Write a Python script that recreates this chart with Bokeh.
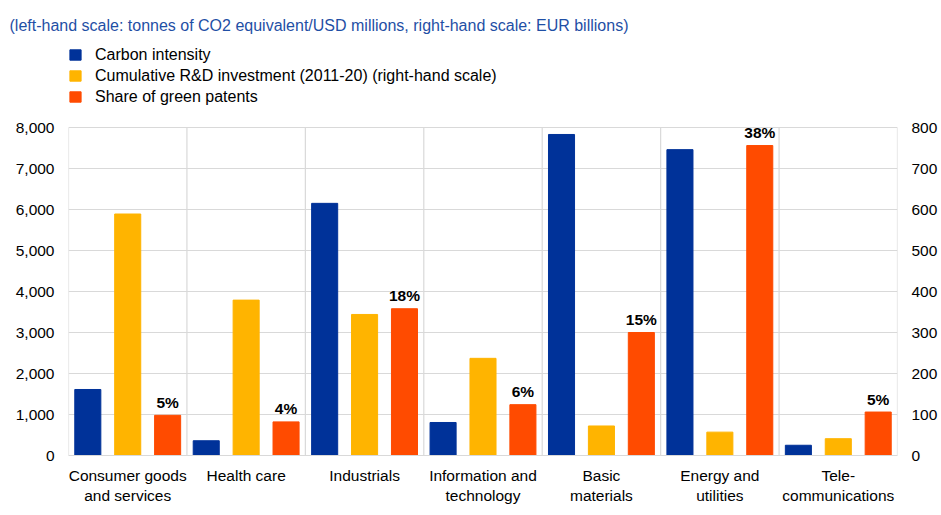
from bokeh.plotting import figure
from bokeh.models import (FactorRange, Range1d, LinearAxis, NumeralTickFormatter,
                          FixedTicker, ColumnDataSource)
from bokeh.transform import dodge
from bokeh.core.properties import value
from bokeh.embed import file_html
from bokeh.resources import INLINE

# ---- data -------------------------------------------------------------
sectors = ["Consumer goods\nand services", "Health care", "Industrials",
           "Information and\ntechnology", "Basic\nmaterials",
           "Energy and\nutilities", "Tele-\ncommunications"]
carbon_intensity = [1610, 360, 6150, 805, 7830, 7460, 250]      # left scale
rd_investment = [589, 379, 344, 237, 72, 57, 41]                # right scale, EUR bn
green_patent_share = [4.9, 4.1, 17.9, 6.2, 15.0, 37.8, 5.3]     # percent
share_labels = [f"{round(v)}%" for v in green_patent_share]
left_ticks = [0, 1000, 2000, 3000, 4000, 5000, 6000, 7000, 8000]
right_ticks = [0, 100, 200, 300, 400, 500, 600, 700, 800]

# ---- styling ------------------------------------------------------------
FONT = "Liberation Sans"
BLUE, YELLOW, ORANGE = "#003299", "#ffb400", "#ff4b00"
GRID = "#d9d9d9"
TITLE_COLOR = "#1f4fa5"

W, H = 941, 510
BOTTOM, LEFT, RIGHT = 55, 68, 44
TOP = 40                          # border above the plot area (holds the title)
TITLE_STANDOFF = 13
FRAME_H = H - TOP - BOTTOM
AXIS_PX = 328                     # pixel height of the 0..8000 scale
scale_top = left_ticks[-1] * FRAME_H / AXIS_PX

src = ColumnDataSource(dict(sector=sectors, carbon=carbon_intensity,
                            rd=rd_investment, share=green_patent_share,
                            label=share_labels))

p = figure(width=W, height=H, output_backend="svg", toolbar_location=None,
           x_range=FactorRange(*sectors, range_padding=0),
           y_range=Range1d(0, scale_top),
           min_border_left=LEFT, min_border_right=RIGHT,
           min_border_top=TOP, min_border_bottom=BOTTOM,
           title="(left-hand scale: tonnes of CO2 equivalent/USD millions, "
                 "right-hand scale: EUR billions)")
p.extra_y_ranges = {
    "rd": Range1d(0, right_ticks[-1] * scale_top / left_ticks[-1]),
    "share": Range1d(0, scale_top / 200)}

p.title.text_font = FONT
p.title.text_font_size = "16px"
p.title.text_font_style = "normal"
p.title.text_color = TITLE_COLOR
p.title.align = "left"
p.title.offset = -59
p.title.standoff = TITLE_STANDOFF

OFF = 0.337
BW = 0.22
p.vbar(x=dodge("sector", -OFF, range=p.x_range), top="carbon", width=BW,
       source=src, color=BLUE, legend_label="Carbon intensity")
p.vbar(x=dodge("sector", 0, range=p.x_range), top="rd", width=BW,
       source=src, color=YELLOW, y_range_name="rd",
       legend_label="Cumulative R&D investment (2011-20) (right-hand scale)")
p.vbar(x=dodge("sector", OFF, range=p.x_range), top="share", width=BW,
       source=src, color=ORANGE, y_range_name="share",
       legend_label="Share of green patents")

p.text(x=dodge("sector", OFF, range=p.x_range), y="share", text="label",
       source=src, y_range_name="share", text_align="center",
       text_baseline="alphabetic", y_offset=-13,
       text_font=value(FONT), text_font_size="15.5px",
       text_font_style="bold", text_color="#000000")

# category separators and plot-area side borders
p.segment(x0=dodge("sector", -0.5, range=p.x_range), y0=0,
          x1=dodge("sector", -0.5, range=p.x_range), y1=left_ticks[-1],
          source=src, line_color=GRID, line_width=1.2)
last = ColumnDataSource(dict(sector=sectors[-1:]))
p.segment(x0=dodge("sector", 0.5, range=p.x_range), y0=0,
          x1=dodge("sector", 0.5, range=p.x_range), y1=left_ticks[-1],
          source=last, line_color=GRID, line_width=1.2)

# axes
p.outline_line_color = None
p.xgrid.grid_line_color = None
p.ygrid.grid_line_color = GRID
p.ygrid.grid_line_width = 1.2
p.ygrid.ticker = FixedTicker(ticks=left_ticks)

ya = p.yaxis[0]
ya.ticker = FixedTicker(ticks=left_ticks)
ya.formatter = NumeralTickFormatter(format="0,0")

ra = LinearAxis(y_range_name="rd", ticker=FixedTicker(ticks=right_ticks))
p.add_layout(ra, "right")

for ax in (ya, ra):
    ax.axis_line_color = None
    ax.major_tick_line_color = None
    ax.minor_tick_line_color = None
    ax.major_tick_out = 0
    ax.major_tick_in = 0
    ax.major_label_standoff = 14
    ax.major_label_text_font = FONT
    ax.major_label_text_font_size = "15.5px"
    ax.major_label_text_color = "#000000"

xa = p.xaxis[0]
xa.axis_line_color = GRID
xa.axis_line_width = 1.2
xa.major_tick_line_color = None
xa.minor_tick_line_color = None
xa.major_tick_out = 0
xa.major_tick_in = 0
xa.major_label_standoff = 11
xa.major_label_text_font = FONT
xa.major_label_text_font_size = "15.5px"
xa.major_label_text_color = "#000000"

# legend inside the (extended) plot area, above the 8,000 line
lg = p.legend[0]
lg.location = (0, H - BOTTOM - 105.5)
lg.orientation = "vertical"
lg.padding = 0
lg.margin = 0
lg.spacing = 3
lg.glyph_width = 14
lg.glyph_height = 13
lg.label_height = 13
lg.label_standoff = 13
lg.label_text_font = FONT
lg.label_text_font_size = "16px"
lg.label_text_color = "#000000"
lg.label_text_baseline = "middle"
lg.border_line_color = None
lg.background_fill_alpha = 0

open("out.html", "w").write(file_html(p, INLINE))
